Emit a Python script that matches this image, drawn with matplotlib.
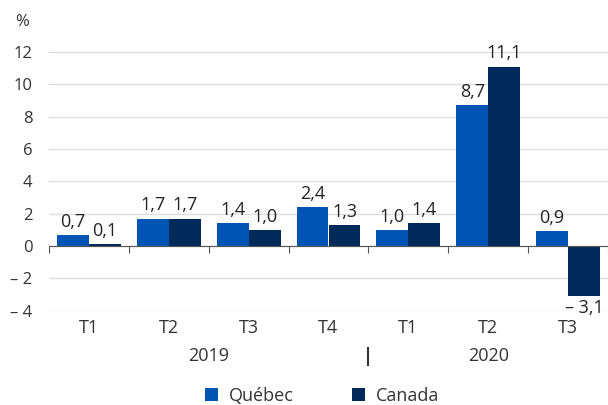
import matplotlib
matplotlib.use('Agg')

import matplotlib.pyplot as plt
from matplotlib.transforms import blended_transform_factory
import numpy as np

# Data
quarters = ["T1", "T2", "T3", "T4", "T1", "T2", "T3"]
years = ["2019", "2020"]
quebec = [0.7, 1.7, 1.4, 2.4, 1.0, 8.7, 0.9]
canada = [0.1, 1.7, 1.0, 1.3, 1.4, 11.1, -3.1]
series_names = ["Québec", "Canada"]

plt.rcParams['font.family'] = ['Open Sans', 'DejaVu Sans']

COL_QC = "#0054b4"
COL_CA = "#002a5a"
TXT = "#333333"


def fmt(v):
    s = "{:.1f}".format(abs(v)).replace(".", ",")
    return ("\u2013 " + s) if v < 0 else s


fig = plt.figure(figsize=(6.08, 4.05), dpi=100)
ax = fig.add_axes([49 / 608, 0.2328, 1 - 49 / 608, 0.8916 - 0.2328])

x = np.arange(len(quarters))
w = 0.4
b1 = ax.bar(x - w / 2, quebec, w, color=COL_QC, label=series_names[0], zorder=3)
b2 = ax.bar(x + w / 2, canada, w, color=COL_CA, label=series_names[1], zorder=3)

# value labels
for bars, vals in ((b1, quebec), (b2, canada)):
    for rect, v in zip(bars, vals):
        cx = rect.get_x() + rect.get_width() / 2
        if v >= 0:
            ax.annotate(fmt(v), (cx, v), xytext=(0, 3), textcoords="offset points",
                        ha="center", va="bottom", fontsize=13, color="#222222")
        else:
            ax.annotate(fmt(v), (cx, v), xytext=(0, -2), textcoords="offset points",
                        ha="center", va="top", fontsize=13, color="#222222")

ax.set_xlim(-0.5, len(quarters) - 0.5)
ax.set_ylim(-4, 12.5)
ax.set_yticks(np.arange(-4, 13, 2))
ax.set_yticklabels([fmt(t).replace(",0", "") for t in np.arange(-4, 13, 2)])
ax.tick_params(axis="y", length=0, pad=12, labelsize=12, labelcolor=TXT)
ax.yaxis.grid(True, color="#dddddd", linewidth=1, zorder=0)

for s in ("top", "right", "left"):
    ax.spines[s].set_visible(False)
ax.spines["bottom"].set_position(("data", 0))
ax.spines["bottom"].set_color("#555555")
ax.spines["bottom"].set_zorder(4)
ax.set_xticks(np.arange(len(quarters) + 1) - 0.5)
ax.set_xticklabels([])
ax.tick_params(axis="x", length=5, color="#555555", direction="out")

# category labels below the plot
trans = blended_transform_factory(ax.transData, fig.transFigure)
for i, q in enumerate(quarters):
    ax.text(i, 1 - 328 / 405, q, transform=trans, ha="center", va="center",
            fontsize=13, color=TXT)
ax.text(1.5, 1 - 356 / 405, years[0], transform=trans, ha="center", va="center",
        fontsize=13, color=TXT)
ax.text(5.0, 1 - 356 / 405, years[1], transform=trans, ha="center", va="center",
        fontsize=13, color=TXT)
ax.plot([3.5, 3.5], [1 - 348 / 405, 1 - 365 / 405], transform=trans,
        color="#333333", linewidth=1.5, clip_on=False)

fig.text(22 / 608, 1 - 22 / 405, "%", ha="center", va="center", fontsize=12, color=TXT)

fig.legend(handles=[b1, b2], loc="center", bbox_to_anchor=(322 / 608, 1 - 396 / 405),
           ncol=2, frameon=False, fontsize=13, handlelength=0.75, handleheight=0.75,
           handletextpad=0.6, columnspacing=3.2, labelcolor=TXT)

plt.savefig("out.png", dpi=100)
